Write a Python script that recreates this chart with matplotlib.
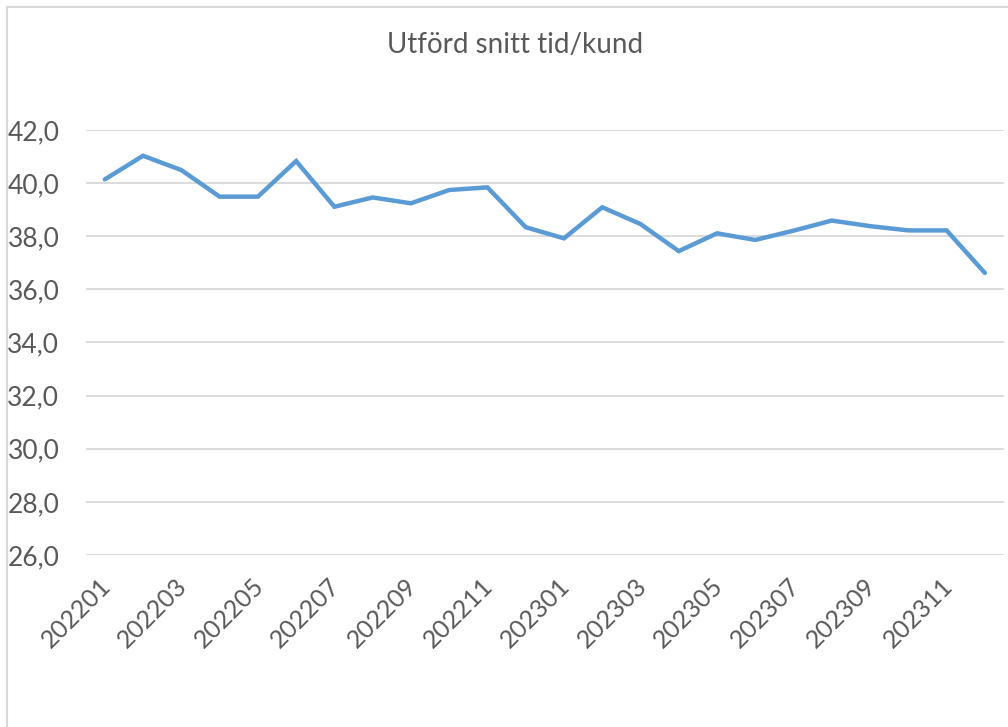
import matplotlib.pyplot as plt
import matplotlib.transforms as mtransforms
from matplotlib.lines import Line2D

plt.rcParams['font.family'] = ['Lato', 'DejaVu Sans']

# data
months = ['202201', '202202', '202203', '202204', '202205', '202206',
          '202207', '202208', '202209', '202210', '202211', '202212',
          '202301', '202302', '202303', '202304', '202305', '202306',
          '202307', '202308', '202309', '202310', '202311', '202312']
values = [40.14, 41.03, 40.49, 39.49, 39.49, 40.83,
          39.11, 39.46, 39.24, 39.74, 39.84, 38.34,
          37.92, 39.09, 38.46, 37.44, 38.11, 37.86,
          38.21, 38.59, 38.38, 38.22, 38.22, 36.62]
y_ticks = [26, 28, 30, 32, 34, 36, 38, 40, 42]

text_col = '#595959'
grid_col = '#D9D9D9'

fig = plt.figure(figsize=(10.08, 7.27), dpi=100)
ax = fig.add_axes([0.085, 0.2366, 0.911, 0.5846])

x = list(range(len(months)))
ax.plot(x, values, color='#5B9BD5', linewidth=3.2, solid_joinstyle='miter',
        solid_capstyle='round', zorder=3)

ax.set_xlim(-0.5, len(months) - 0.5)
ax.set_ylim(26, 42)
ax.set_yticks(y_ticks)
ax.set_yticklabels([f'{v:.1f}'.replace('.', ',') for v in y_ticks])
ax.set_xticks(x[::2])
ax.set_xticklabels(months[::2], rotation=45, ha='right', rotation_mode='anchor')

ax.grid(axis='y', color=grid_col, linewidth=1.3)
ax.set_axisbelow(True)
for s in ax.spines.values():
    s.set_visible(False)
ax.tick_params(axis='both', length=0, colors=text_col)
ax.tick_params(axis='x', pad=14, labelsize=18)
ax.tick_params(axis='y', pad=19, labelsize=19)

# nudge the rotated month labels slightly left, like Excel does
shift = mtransforms.ScaledTranslation(-6 / 100, 0, fig.dpi_scale_trans)
for lbl in ax.get_xticklabels():
    lbl.set_transform(lbl.get_transform() + shift)

fig.text(0.511, 0.938, 'Utförd snitt tid/kund', ha='center', va='center',
         fontsize=20, color=text_col)

# chart area border (only top and left visible)
fig.add_artist(Line2D([0.007, 0.007], [0, 0.99], transform=fig.transFigure,
                      color=grid_col, linewidth=1.5))
fig.add_artist(Line2D([0.007, 1.0], [0.99, 0.99], transform=fig.transFigure,
                      color=grid_col, linewidth=1.5))

fig.savefig('out.png', dpi=100)
